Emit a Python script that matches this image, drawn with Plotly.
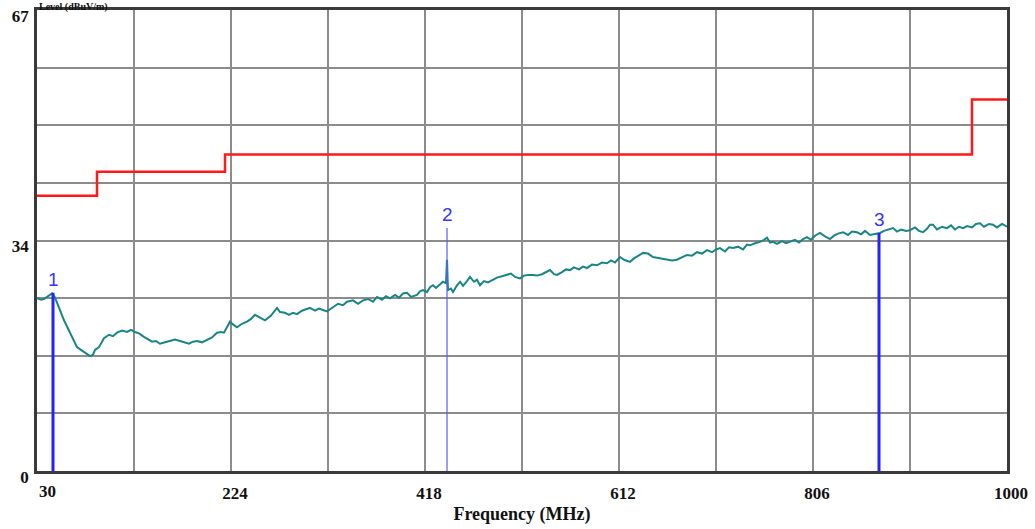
import plotly.graph_objects as go

# ---------------- data ----------------
trace_freq = [30,34,37,41,45,48,50,54,57,60,63,67,70,74,77,80,83,86,88,92,97,102,106,110,115,120,124,128,132,137,
              141,145,149,153,158,163,168,173,178,182,186,190,195,200,205,210,214,217,220,223,226,230,235,240,244,248,
              253,258,264,270,273,278,282,286,290,295,299,303,308,312,316,320,326,331,336,340,346,351,356,361,366,370,
              375,379,383,388,392,396,400,404,410,413,416,420,423,426,429,433,436,439,440,441,444,446,450,453,456,460,
              463,467,470,473,477,481,486,490,495,500,504,508,513,517,521,526,530,535,540,543,547,550,555,559,563,567,
              572,576,580,585,590,595,600,604,608,613,617,620,623,627,632,636,641,646,650,655,660,665,670,675,680,685,
              690,695,700,705,709,713,718,722,726,731,736,740,743,748,753,757,760,763,766,770,775,779,783,788,792,796,
              800,804,808,813,818,823,827,831,836,841,845,850,854,858,863,868,873,877,881,886,890,894,899,903,908,912,
              916,920,923,926,930,935,940,944,948,952,956,960,965,969,973,977,982,986,990,995,1000]
trace_level = [25.1,24.9,25.0,25.4,25.8,25.2,24.4,23.0,21.9,21.0,20.1,19.0,18.0,17.6,17.3,17.0,16.7,16.9,17.6,18.0,
               19.3,19.8,19.6,20.1,20.4,20.2,20.5,20.2,20.0,19.5,19.1,18.8,18.9,18.5,18.7,18.9,19.1,18.9,18.7,18.5,
               18.8,18.9,18.7,19.0,19.4,20.1,20.2,20.1,21.0,21.7,21.3,20.9,21.4,21.7,22.1,22.7,22.3,21.9,22.6,23.7,
               23.1,23.0,22.7,23.0,22.8,23.3,23.5,23.7,23.3,23.6,23.4,23.2,23.8,24.3,24.1,24.6,24.8,24.3,24.8,25.0,
               24.6,25.3,24.9,25.4,25.1,25.6,25.2,25.8,25.9,25.3,25.6,26.1,26.3,26.0,26.7,27.0,26.6,27.2,27.5,27.3,
               30.7,26.3,26.5,26.0,27.0,27.5,26.9,27.6,28.2,27.5,27.8,27.0,27.6,27.4,27.8,28.1,28.3,28.5,28.7,28.2,
               28.0,28.4,28.5,28.5,28.4,28.6,29.0,29.2,28.6,28.5,28.9,29.3,29.2,29.6,29.3,29.7,29.5,30.0,29.9,30.3,
               30.2,30.6,30.3,31.1,30.7,30.5,30.4,30.9,31.4,31.7,31.6,31.1,31.0,30.9,30.7,30.6,30.7,31.0,31.4,31.3,
               31.8,31.6,32.1,31.8,32.2,32.4,31.9,32.5,32.4,32.6,32.2,32.9,32.8,33.1,33.3,33.6,33.9,33.2,33.3,33.0,
               33.4,33.1,33.3,33.6,33.2,33.7,34.0,33.6,34.2,34.6,34.1,33.7,34.2,34.5,34.7,34.3,34.8,34.7,34.4,34.9,
               34.3,34.5,34.6,34.9,35.1,35.3,34.8,35.1,34.9,35.0,35.4,34.9,34.7,35.2,35.8,35.8,35.1,35.5,35.3,35.7,
               35.1,35.5,35.3,35.6,35.4,35.9,36.0,35.5,35.9,35.8,35.4,35.9,35.5]

limit_freq = [30, 90, 218, 965, 1000]
limit_level = [40.0, 43.5, 46.0, 54.0, 54.0]

marker_labels = ["1", "2", "3"]
marker_freq = [46, 440, 872]
marker_level = [25.9, 35.3, 34.6]

x_tick_vals = [30, 127, 224, 321, 418, 515, 612, 709, 806, 903, 1000]
x_tick_text = ["", "", "224", "", "418", "", "612", "", "806", "", "1000"]
y_tick_vals = [0, 8.375, 16.75, 25.125, 33.5, 41.875, 50.25, 58.625, 67]
y_tick_text = ["0", "", "", "", "34", "", "", "", "67"]

# ---------------- figure ----------------
fig = go.Figure()

fig.add_trace(go.Scatter(x=limit_freq, y=limit_level, mode="lines", line_shape="hv",
                         line=dict(color="#ff1a1a", width=2.5), showlegend=False, hoverinfo="skip"))
fig.add_trace(go.Scatter(x=trace_freq, y=trace_level, mode="lines",
                         line=dict(color="#1a8585", width=2), showlegend=False))

marker_widths = [3, 1.2, 3]
marker_colors = ["#2222ff", "#5c5cff", "#2222ff"]
for lab, f, lv, w, c in zip(marker_labels, marker_freq, marker_level, marker_widths, marker_colors):
    fig.add_trace(go.Scatter(x=[f, f], y=[0, lv], mode="lines", line=dict(color=c, width=w),
                             showlegend=False, hoverinfo="skip"))
    fig.add_annotation(x=f, y=lv, text=lab, showarrow=False, yanchor="bottom", yshift=1,
                       font=dict(family="Liberation Sans, Arial", size=19, color="#3535ff"))

serif = "Liberation Serif, Times New Roman, serif"
tick_size = 17

fig.add_annotation(x=30, xref="x", y=0, yref="paper", text="<b>30</b>", showarrow=False,
                   xanchor="left", yanchor="top", yshift=-9, xshift=0,
                   font=dict(family=serif, size=tick_size, color="#111"))
fig.add_annotation(x=0, xref="paper", y=1 + 10 / 461, yref="paper", text="<b>Level (dBuV/m)</b>",
                   showarrow=False, xanchor="left", yanchor="top", yshift=1,
                   font=dict(family=serif, size=10, color="#111"))

fig.update_layout(
    width=1035, height=529,
    margin=dict(l=37, r=28, t=10, b=58, autoexpand=False),
    paper_bgcolor="white", plot_bgcolor="white",
    xaxis=dict(range=[30, 1000], tickvals=x_tick_vals, ticktext=[f"<b>{t}</b>" if t else "" for t in x_tick_text],
               showgrid=True, gridcolor="#8c8c8c", gridwidth=1.5, automargin=False,
               showline=True, linecolor="#3a3a3a", linewidth=2.5, mirror=True,
               ticks="", ticklabelstandoff=5, ticklabelshift=4,
               tickfont=dict(family=serif, size=tick_size, color="#111"), zeroline=False,
               title=dict(text="<b>Frequency (MHz)</b>", standoff=6,
                          font=dict(family=serif, size=18, color="#111"))),
    yaxis=dict(range=[0, 67], tickvals=y_tick_vals, ticktext=[f"<b>{t}</b>" if t else "" for t in y_tick_text],
               showgrid=True, gridcolor="#8c8c8c", gridwidth=1.5, automargin=False,
               showline=True, linecolor="#3a3a3a", linewidth=2.5, mirror=True,
               ticks="", ticklabelstandoff=2, ticklabelshift=6,
               tickfont=dict(family=serif, size=tick_size, color="#111"), zeroline=False),
)

fig.write_html("out.html")
